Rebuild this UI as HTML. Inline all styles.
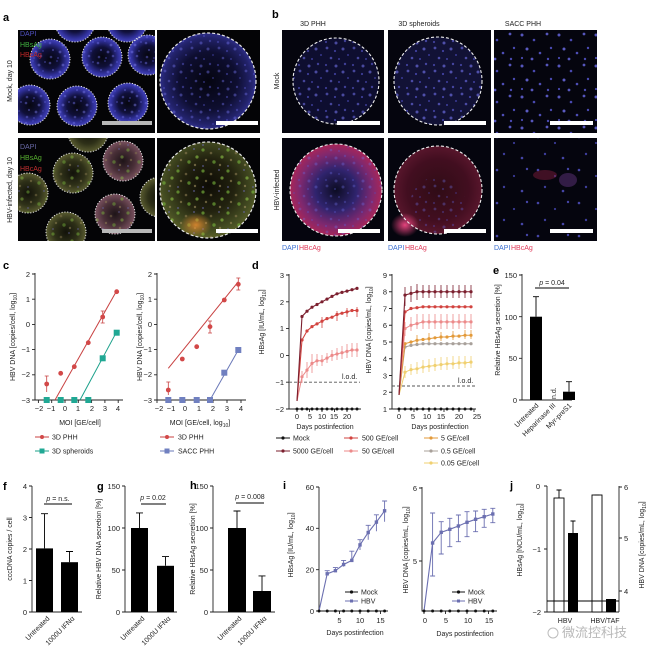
<!DOCTYPE html>
<html><head><meta charset="utf-8"><style>
html,body{margin:0;padding:0;background:#fff;}
svg{display:block;font-family:"Liberation Sans","Noto Sans CJK SC",sans-serif;}
.t{font-size:7px;fill:#222;}
.tk{font-size:7.5px;fill:#222;}
.ax{stroke:#222;stroke-width:0.9;fill:none;}
.L{font-size:11px;font-weight:bold;fill:#000;}
</style></head><body>
<svg width="649" height="651" viewBox="0 0 649 651" xmlns="http://www.w3.org/2000/svg">
<defs>
<radialGradient id="gBlueRing" cx="50%" cy="50%" r="50%">
<stop offset="0" stop-color="#06060f"/><stop offset="0.5" stop-color="#10103a"/><stop offset="0.82" stop-color="#30309a"/><stop offset="1" stop-color="#4545bc"/></radialGradient>
<radialGradient id="gBig" cx="50%" cy="50%" r="50%">
<stop offset="0" stop-color="#050510"/><stop offset="0.6" stop-color="#0e0e30"/><stop offset="0.9" stop-color="#22226a"/><stop offset="1" stop-color="#2e2e88"/></radialGradient>
<radialGradient id="gOlive" cx="50%" cy="50%" r="50%">
<stop offset="0" stop-color="#12120a"/><stop offset="0.6" stop-color="#2e3018"/><stop offset="1" stop-color="#5a5c30"/></radialGradient>
<radialGradient id="gPinkish" cx="50%" cy="50%" r="50%">
<stop offset="0" stop-color="#1e1418"/><stop offset="0.6" stop-color="#4a3038"/><stop offset="1" stop-color="#7a5260"/></radialGradient>
<radialGradient id="gGreenBig" cx="50%" cy="45%" r="55%">
<stop offset="0" stop-color="#0e0c06"/><stop offset="0.5" stop-color="#22220f"/><stop offset="0.85" stop-color="#444c22"/><stop offset="1" stop-color="#5a6028"/></radialGradient>
<radialGradient id="gMag" cx="50%" cy="50%" r="50%">
<stop offset="0" stop-color="#0c0c22"/><stop offset="0.45" stop-color="#30246e"/><stop offset="0.8" stop-color="#80286e"/><stop offset="1" stop-color="#a82658"/></radialGradient>
<radialGradient id="gRed" cx="50%" cy="50%" r="50%">
<stop offset="0" stop-color="#300c16"/><stop offset="0.7" stop-color="#420e20"/><stop offset="1" stop-color="#58162c"/></radialGradient>
<radialGradient id="gOrange" cx="50%" cy="50%" r="50%">
<stop offset="0" stop-color="#e08a30" stop-opacity="0.9"/><stop offset="1" stop-color="#e08a30" stop-opacity="0"/></radialGradient>
<radialGradient id="gPinkSpot" cx="50%" cy="50%" r="50%">
<stop offset="0" stop-color="#ff4a8a" stop-opacity="0.9"/><stop offset="1" stop-color="#ff4a8a" stop-opacity="0"/></radialGradient>
<pattern id="pBlue" width="24" height="20" patternUnits="userSpaceOnUse">
<circle cx="2" cy="3" r="1.3" fill="#7070e8"/><circle cx="9" cy="1" r="1" fill="#5050c8"/><circle cx="15" cy="5" r="1.4" fill="#8080f0"/><circle cx="21" cy="2" r="1" fill="#6060d8"/><circle cx="5" cy="10" r="1.1" fill="#6a6ae0"/><circle cx="12" cy="12" r="1.4" fill="#7a7aec"/><circle cx="19" cy="11" r="1" fill="#5050c8"/><circle cx="3" cy="17" r="1.3" fill="#6a6ae0"/><circle cx="10" cy="18" r="1" fill="#5858d0"/><circle cx="17" cy="16" r="1.3" fill="#7070e8"/></pattern>
<pattern id="pBlue2" width="27" height="23" patternUnits="userSpaceOnUse">
<circle cx="3" cy="2" r="1.4" fill="#6a6ae0"/><circle cx="11" cy="5" r="1.1" fill="#5a5ad8"/><circle cx="19" cy="3" r="1.5" fill="#7070e8"/><circle cx="24" cy="9" r="1" fill="#5050c8"/><circle cx="7" cy="12" r="1.3" fill="#6a6ae0"/><circle cx="15" cy="13" r="1" fill="#5a5ad8"/><circle cx="2" cy="19" r="1.1" fill="#5858d0"/><circle cx="12" cy="20" r="1.5" fill="#7070e8"/><circle cx="21" cy="18" r="1.2" fill="#6060d8"/></pattern>
<pattern id="pGreen" width="25" height="21" patternUnits="userSpaceOnUse">
<circle cx="3" cy="3" r="1.6" fill="#80c040"/><circle cx="11" cy="6" r="1.3" fill="#8a7a50"/><circle cx="19" cy="2" r="1" fill="#6a6ab0"/><circle cx="22" cy="10" r="1.6" fill="#90c848"/><circle cx="6" cy="13" r="1.2" fill="#9a8a58"/><circle cx="14" cy="15" r="1.7" fill="#78b83c"/><circle cx="3" cy="19" r="1" fill="#6a6ab0"/><circle cx="20" cy="18" r="1.2" fill="#a09060"/></pattern>
<pattern id="pSacc" width="37" height="31" patternUnits="userSpaceOnUse">
<circle cx="4" cy="4" r="1.5" fill="#6a6ae8"/><circle cx="16" cy="9" r="1.3" fill="#5a5ad8"/><circle cx="29" cy="3" r="1.4" fill="#6a6ae8"/><circle cx="33" cy="17" r="1.2" fill="#5a5ad8"/><circle cx="9" cy="18" r="1.5" fill="#7070ee"/><circle cx="22" cy="22" r="1.3" fill="#6060e0"/><circle cx="4" cy="27" r="1.1" fill="#5a5ad8"/><circle cx="14" cy="28" r="1.4" fill="#6a6ae8"/><circle cx="30" cy="28" r="1.2" fill="#5a5ad8"/></pattern>
<pattern id="pSacc2" width="41" height="33" patternUnits="userSpaceOnUse">
<circle cx="5" cy="5" r="1.3" fill="#5a5ad8"/><circle cx="22" cy="11" r="1.1" fill="#4a4ac0"/><circle cx="35" cy="4" r="1.2" fill="#5a5ad8"/><circle cx="12" cy="22" r="1.2" fill="#5050c8"/><circle cx="30" cy="26" r="1.3" fill="#5a5ad8"/></pattern>
<marker id="mk" markerWidth="4" markerHeight="4" refX="2" refY="2" markerUnits="userSpaceOnUse"><circle cx="2" cy="2" r="1.5" fill="#111"/></marker>
<marker id="m1" markerWidth="4" markerHeight="4" refX="2" refY="2" markerUnits="userSpaceOnUse"><circle cx="2" cy="2" r="1.6" fill="#7b1f2e"/></marker>
<marker id="m2" markerWidth="4" markerHeight="4" refX="2" refY="2" markerUnits="userSpaceOnUse"><circle cx="2" cy="2" r="1.6" fill="#d2433f"/></marker>
<marker id="m3" markerWidth="4" markerHeight="4" refX="2" refY="2" markerUnits="userSpaceOnUse"><circle cx="2" cy="2" r="1.6" fill="#ec8a8a"/></marker>
<marker id="m4" markerWidth="4" markerHeight="4" refX="2" refY="2" markerUnits="userSpaceOnUse"><circle cx="2" cy="2" r="1.6" fill="#e39a3a"/></marker>
<marker id="m5" markerWidth="4" markerHeight="4" refX="2" refY="2" markerUnits="userSpaceOnUse"><circle cx="2" cy="2" r="1.6" fill="#a8a09a"/></marker>
<marker id="m6" markerWidth="4" markerHeight="4" refX="2" refY="2" markerUnits="userSpaceOnUse"><circle cx="2" cy="2" r="1.6" fill="#f0d070"/></marker>
<marker id="mv" markerWidth="4" markerHeight="4" refX="2" refY="2" markerUnits="userSpaceOnUse"><rect x="0.3" y="0.3" width="3.4" height="3.4" fill="#6b6fb0"/></marker>
<clipPath id="cA1"><rect x="18" y="30" width="137" height="103"/></clipPath>
<clipPath id="cA3"><rect x="18" y="138" width="137" height="103"/></clipPath>
</defs>

<!-- ============ Panel a ============ -->
<text class="L" x="3" y="21">a</text>
<text class="t" transform="translate(12,81) rotate(-90)" text-anchor="middle">Mock, day 10</text>
<text class="t" transform="translate(12,190) rotate(-90)" text-anchor="middle">HBV-infected, day 10</text>
<!-- TL -->
<rect x="18" y="30" width="137" height="103" fill="#040406"/>
<g clip-path="url(#cA1)">
<g fill="url(#gBlueRing)">
<circle cx="50" cy="59" r="20"/><circle cx="102" cy="57" r="20"/><circle cx="148" cy="55" r="20"/>
<circle cx="30" cy="105" r="20"/><circle cx="77" cy="106" r="20"/><circle cx="128" cy="103" r="20"/>
<circle cx="75" cy="22" r="20"/><circle cx="127" cy="22" r="20"/>
</g>
<g fill="url(#pBlue)" opacity="0.45">
<circle cx="50" cy="59" r="20"/><circle cx="102" cy="57" r="20"/><circle cx="148" cy="55" r="20"/>
<circle cx="30" cy="105" r="20"/><circle cx="77" cy="106" r="20"/><circle cx="128" cy="103" r="20"/>
</g>
<g fill="none" stroke="#e8e8e8" stroke-width="1" stroke-dasharray="1.2 1.6">
<circle cx="50" cy="59" r="20"/><circle cx="102" cy="57" r="20"/><circle cx="148" cy="55" r="20"/>
<circle cx="30" cy="105" r="20"/><circle cx="77" cy="106" r="20"/><circle cx="128" cy="103" r="20"/>
<circle cx="75" cy="22" r="20"/><circle cx="127" cy="22" r="20"/>
</g>
</g>
<rect x="102" y="121" width="50" height="4" fill="#b8b8b8"/>
<text x="20" y="36" style="font-size:7px;fill:#5050c0">DAPI</text>
<text x="20" y="47" style="font-size:7px;fill:#40b040">HBsAg</text>
<text x="20" y="57" style="font-size:7px;fill:#c02828">HBcAg</text>
<!-- TR -->
<rect x="157" y="30" width="103" height="103" fill="#040406"/>
<circle cx="208" cy="81" r="48" fill="url(#gBig)"/>
<circle cx="208" cy="81" r="48" fill="url(#pBlue2)" opacity="0.45"/>
<circle cx="208" cy="81" r="48" fill="none" stroke="#e8e8e8" stroke-width="1.2" stroke-dasharray="3 2"/>
<rect x="216" y="121" width="42" height="4" fill="#fff"/>
<!-- BL -->
<rect x="18" y="138" width="137" height="103" fill="#040406"/>
<g clip-path="url(#cA3)">
<circle cx="73" cy="173" r="20" fill="url(#gOlive)"/><circle cx="123" cy="161" r="20" fill="url(#gPinkish)"/>
<circle cx="28" cy="193" r="20" fill="url(#gOlive)"/><circle cx="66" cy="232" r="20" fill="url(#gOlive)"/>
<circle cx="115" cy="214" r="20" fill="url(#gPinkish)"/><circle cx="88" cy="132" r="20" fill="url(#gOlive)"/>
<circle cx="160" cy="197" r="20" fill="url(#gOlive)"/>
<g fill="url(#pGreen)" opacity="0.45">
<circle cx="73" cy="173" r="20"/><circle cx="123" cy="161" r="20"/><circle cx="28" cy="193" r="20"/><circle cx="66" cy="232" r="20"/><circle cx="115" cy="214" r="20"/>
</g>
<g fill="none" stroke="#e8e8e8" stroke-width="1" stroke-dasharray="1.2 1.6">
<circle cx="73" cy="173" r="20"/><circle cx="123" cy="161" r="20"/><circle cx="28" cy="193" r="20"/><circle cx="66" cy="232" r="20"/><circle cx="115" cy="214" r="20"/><circle cx="88" cy="132" r="20"/><circle cx="160" cy="197" r="20"/>
</g>
</g>
<rect x="102" y="229" width="50" height="4" fill="#b8b8b8"/>
<text x="20" y="149" style="font-size:7px;fill:#6a6aa8">DAPI</text>
<text x="20" y="160" style="font-size:7px;fill:#58b030">HBsAg</text>
<text x="20" y="171" style="font-size:7px;fill:#c03030">HBcAg</text>
<!-- BR -->
<rect x="157" y="138" width="103" height="103" fill="#040406"/>
<circle cx="208" cy="190" r="48" fill="url(#gGreenBig)"/>
<circle cx="208" cy="190" r="48" fill="url(#pGreen)" opacity="0.6"/>
<ellipse cx="196" cy="225" rx="16" ry="12" fill="url(#gOrange)"/>
<circle cx="208" cy="190" r="48" fill="none" stroke="#e8e8e8" stroke-width="1.2" stroke-dasharray="3 2"/>
<rect x="216" y="229" width="42" height="4" fill="#fff"/>

<!-- ============ Panel b ============ -->
<text class="L" x="272" y="18">b</text>
<text class="t" x="313" y="26" text-anchor="middle">3D PHH</text>
<text class="t" x="419" y="26" text-anchor="middle">3D spheroids</text>
<text class="t" x="523" y="26" text-anchor="middle">SACC PHH</text>
<text class="t" transform="translate(279,81) rotate(-90)" text-anchor="middle">Mock</text>
<text class="t" transform="translate(279,190) rotate(-90)" text-anchor="middle">HBV-infected</text>
<!-- top row -->
<rect x="282" y="30" width="102" height="103" fill="#05050e"/>
<circle cx="336" cy="81" r="43" fill="#0e0e30"/>
<circle cx="336" cy="81" r="43" fill="url(#pBlue2)" opacity="0.6"/>
<circle cx="336" cy="81" r="43" fill="none" stroke="#eee" stroke-width="1.1" stroke-dasharray="3 2"/>
<rect x="337" y="121" width="43" height="4" fill="#fff"/>
<rect x="388" y="30" width="103" height="103" fill="#05050e"/>
<circle cx="438" cy="81" r="44" fill="#121236"/>
<circle cx="438" cy="81" r="44" fill="url(#pBlue2)" opacity="0.65"/>
<circle cx="438" cy="81" r="44" fill="none" stroke="#eee" stroke-width="1.1" stroke-dasharray="3 2"/>
<rect x="444" y="121" width="42" height="4" fill="#fff"/>
<rect x="494" y="30" width="103" height="103" fill="#05050e"/>
<rect x="494" y="30" width="103" height="103" fill="url(#pSacc)" opacity="0.8"/>
<rect x="550" y="121" width="43" height="4" fill="#fff"/>
<!-- bottom row -->
<rect x="282" y="138" width="102" height="103" fill="#05050e"/>
<circle cx="336" cy="190" r="46" fill="url(#gMag)"/>
<circle cx="336" cy="190" r="46" fill="url(#pBlue2)" opacity="0.35"/>
<circle cx="336" cy="190" r="46" fill="none" stroke="#eee" stroke-width="1.1" stroke-dasharray="3 2"/>
<rect x="338" y="229" width="42" height="4" fill="#fff"/>
<rect x="388" y="138" width="103" height="103" fill="#05050e"/>
<circle cx="438" cy="190" r="44" fill="url(#gRed)"/>
<circle cx="438" cy="205" r="28" fill="url(#pBlue2)" opacity="0.35"/>
<ellipse cx="405" cy="225" rx="14" ry="12" fill="url(#gPinkSpot)"/>
<circle cx="438" cy="190" r="44" fill="none" stroke="#eee" stroke-width="1.1" stroke-dasharray="3 2"/>
<rect x="444" y="229" width="42" height="4" fill="#fff"/>
<rect x="494" y="138" width="103" height="103" fill="#05050e"/>
<rect x="494" y="138" width="103" height="103" fill="url(#pSacc2)" opacity="0.75"/>
<ellipse cx="545" cy="175" rx="12" ry="5" fill="#8a2040" opacity="0.45"/>
<ellipse cx="568" cy="180" rx="9" ry="7" fill="#6a3a8a" opacity="0.45"/>
<rect x="550" y="229" width="43" height="4" fill="#fff"/>
<text x="282" y="250" style="font-size:7px;fill:#3a6ed0">DAPI</text><text x="299" y="250" style="font-size:7px;fill:#e03a5a">HBcAg</text>
<text x="388" y="250" style="font-size:7px;fill:#3a6ed0">DAPI</text><text x="405" y="250" style="font-size:7px;fill:#e03a5a">HBcAg</text>
<text x="494" y="250" style="font-size:7px;fill:#3a6ed0">DAPI</text><text x="511" y="250" style="font-size:7px;fill:#e03a5a">HBcAg</text>

<!-- ============ Panel c ============ -->
<text class="L" x="3" y="269">c</text>
<!-- left -->
<path class="ax" d="M35 273V400H123 M32 274H35 M32 299.2H35 M32 324.4H35 M32 349.6H35 M32 374.8H35 M32 400H35 M38.4 400V403 M51.7 400V403 M65 400V403 M78.3 400V403 M91.6 400V403 M104.9 400V403 M118.2 400V403"/>
<g class="tk" text-anchor="end"><text x="30" y="277">2</text><text x="30" y="302">1</text><text x="30" y="327">0</text><text x="30" y="352">−1</text><text x="30" y="377">−2</text><text x="30" y="403">−3</text></g>
<g class="tk" text-anchor="middle"><text x="39" y="411">−2</text><text x="51" y="411">−1</text><text x="65" y="411">0</text><text x="78" y="411">1</text><text x="92" y="411">2</text><text x="105" y="411">3</text><text x="118" y="411">4</text></g>
<text class="t" x="80" y="425" text-anchor="middle">MOI [GE/cell]</text>
<text class="t" transform="translate(15,337) rotate(-90)" text-anchor="middle">HBV DNA [copies/cell, log<tspan style="font-size:5px" dy="2">10</tspan><tspan dy="-2">]</tspan></text>
<line x1="55" y1="400" x2="116.7" y2="290.7" stroke="#c84040" stroke-width="1"/>
<line x1="80" y1="400" x2="116.7" y2="331.7" stroke="#1aa08a" stroke-width="1"/>
<path d="M46.7 376V392 M44.7 376H48.7 M102.7 311V323 M100.7 311H104.7 M100.7 323H104.7" stroke="#c84040" stroke-width="0.8" fill="none"/>
<g fill="#d24848"><circle cx="46.7" cy="384" r="2.4"/><circle cx="60.7" cy="373.3" r="2.4"/><circle cx="74.3" cy="366.7" r="2.4"/><circle cx="88.3" cy="342.7" r="2.4"/><circle cx="102.7" cy="317" r="2.4"/><circle cx="116.7" cy="291.7" r="2.4"/></g>
<g fill="#20a894"><rect x="43.7" y="397" width="6" height="6"/><rect x="57.7" y="397" width="6" height="6"/><rect x="71.3" y="397" width="6" height="6"/><rect x="85.3" y="397" width="6" height="6"/><rect x="99.7" y="355.3" width="6" height="6"/><rect x="113.7" y="329.7" width="6" height="6"/></g>
<!-- right -->
<path class="ax" d="M157 273V400H246 M154 274H157 M154 299.2H157 M154 324.4H157 M154 349.6H157 M154 374.8H157 M154 400H157 M157 400V403 M171 400V403 M185 400V403 M199 400V403 M213 400V403 M227 400V403 M241 400V403"/>
<g class="tk" text-anchor="end"><text x="152" y="277">2</text><text x="152" y="302">1</text><text x="152" y="327">0</text><text x="152" y="352">−1</text><text x="152" y="377">−2</text><text x="152" y="403">−3</text></g>
<g class="tk" text-anchor="middle"><text x="159" y="411">−2</text><text x="171" y="411">−1</text><text x="185" y="411">0</text><text x="199" y="411">1</text><text x="213" y="411">2</text><text x="227" y="411">3</text><text x="241" y="411">4</text></g>
<text class="t" x="200" y="425" text-anchor="middle">MOI [GE/cell, log<tspan style="font-size:5px" dy="2">10</tspan><tspan dy="-2">]</tspan></text>
<text class="t" transform="translate(142,337) rotate(-90)" text-anchor="middle">HBV DNA [copies/cell, log<tspan style="font-size:5px" dy="2">10</tspan><tspan dy="-2">]</tspan></text>
<line x1="168.3" y1="368.3" x2="238.3" y2="281.7" stroke="#c84040" stroke-width="1"/>
<line x1="210" y1="400" x2="238.3" y2="350" stroke="#6a78b8" stroke-width="1"/>
<path d="M168.3 382V395 M166.3 382H170.3 M210 321V333 M208 321H212 M208 333H212 M238.3 278V290 M236.3 278H240.3 M236.3 290H240.3" stroke="#c84040" stroke-width="0.8" fill="none"/>
<g fill="#d24848"><circle cx="168.3" cy="390" r="2.4"/><circle cx="182.3" cy="359" r="2.4"/><circle cx="196.7" cy="346.7" r="2.4"/><circle cx="210" cy="326.7" r="2.4"/><circle cx="224.3" cy="300" r="2.4"/><circle cx="238.3" cy="284.3" r="2.4"/></g>
<g fill="#7080c0"><rect x="165.3" y="397" width="6" height="6"/><rect x="179.3" y="397" width="6" height="6"/><rect x="193.7" y="397" width="6" height="6"/><rect x="207" y="397" width="6" height="6"/><rect x="221.3" y="369.7" width="6" height="6"/><rect x="235.3" y="347" width="6" height="6"/></g>
<!-- legend c -->
<line x1="35" y1="437" x2="49" y2="437" stroke="#c84040"/><circle cx="42" cy="437" r="2" fill="#d24848"/><text class="t" x="52" y="439.5">3D PHH</text>
<line x1="35" y1="451" x2="49" y2="451" stroke="#1aa08a"/><rect x="39.5" y="448.5" width="5" height="5" fill="#20a894"/><text class="t" x="52" y="453.5">3D spheroids</text>
<line x1="160" y1="437" x2="174" y2="437" stroke="#c84040"/><circle cx="167" cy="437" r="2" fill="#d24848"/><text class="t" x="178" y="439.5">3D PHH</text>
<line x1="160" y1="451" x2="174" y2="451" stroke="#6a78b8"/><rect x="164.5" y="448.5" width="5" height="5" fill="#7080c0"/><text class="t" x="178" y="453.5">SACC PHH</text>

<!-- ============ Panel d ============ -->
<text class="L" x="252" y="269">d</text>
<!-- left -->
<path class="ax" d="M289 274V409H361 M286 275H289 M286 301.8H289 M286 328.6H289 M286 355.4H289 M286 382.2H289 M286 409H289 M297 409V412 M309.5 409V412 M322 409V412 M334.5 409V412 M347 409V412"/>
<g class="tk" text-anchor="end"><text x="284" y="278">3</text><text x="284" y="305">2</text><text x="284" y="331">1</text><text x="284" y="358">0</text><text x="284" y="385">−1</text><text x="284" y="412">−2</text></g>
<g class="tk" text-anchor="middle"><text x="297" y="419">0</text><text x="310" y="419">5</text><text x="322" y="419">10</text><text x="334" y="419">15</text><text x="347" y="419">20</text></g>
<text class="t" x="325" y="429" text-anchor="middle">Days postinfection</text>
<text class="t" transform="translate(264,322) rotate(-90)" text-anchor="middle">HBsAg [IU/mL, log<tspan style="font-size:5px" dy="2">10</tspan><tspan dy="-2">]</tspan></text>
<line x1="289" y1="382.2" x2="360" y2="382.2" stroke="#555" stroke-dasharray="3 2" stroke-width="0.9"/>
<text class="t" x="342" y="379">l.o.d.</text>
<polyline points="297,409 302,409 307,409 312,409 317,409 322,409 327,409 332,409 337,409 342,409 347,409 352,409 357,409" fill="none" stroke="#111" stroke-width="1" marker-start="url(#mk)" marker-mid="url(#mk)" marker-end="url(#mk)"/>
<path d="M302 371V383 M307 362V378 M312 354V373 M317 354V366 M322 355V366 M327 353V363 M332 350V361 M337 348V360 M342 346V359 M347 344V358 M352 343V357 M357 343V357" stroke="#ec8a8a" stroke-width="0.8"/>
<polyline points="297,401 302,376.8 307,370.1 312,363.4 317,360.8 322,360.8 327,358.1 332,355.4 337,354 342,352.7 347,351.4 352,350 357,350" fill="none" stroke="#ec8a8a" stroke-width="1" marker-mid="url(#m3)" marker-end="url(#m3)"/>
<path d="M322 317V328 M337 311V321 M347 308V317 M357 307V317" stroke="#d2433f" stroke-width="0.8"/>
<polyline points="297,401 302,340 307,331 312,326.6 317,323.9 322,321.2 327,318.6 332,317.2 337,314.5 342,313.2 347,311.9 352,310.5 357,310.5" fill="none" stroke="#d2433f" stroke-width="1.1" marker-mid="url(#m2)" marker-end="url(#m2)"/>
<polyline points="297,401 302,316.5 307,311.2 312,307.2 317,304.5 322,301.8 327,299.1 332,296.4 337,293.8 342,292.4 347,291.1 352,289.7 357,288.4" fill="none" stroke="#7b1f2e" stroke-width="1.1" marker-mid="url(#m1)" marker-end="url(#m1)"/>
<!-- right -->
<path class="ax" d="M392 274V409H476 M389 275H392 M389 291.75H392 M389 308.5H392 M389 325.25H392 M389 342H392 M389 358.75H392 M389 375.5H392 M389 392.25H392 M389 409H392 M399 409V412 M414 409V412 M429 409V412 M444 409V412 M459 409V412 M474 409V412"/>
<g class="tk" text-anchor="end"><text x="387" y="278">9</text><text x="387" y="294.5">8</text><text x="387" y="311.5">7</text><text x="387" y="328">6</text><text x="387" y="345">5</text><text x="387" y="361.5">4</text><text x="387" y="378.5">3</text><text x="387" y="395">2</text><text x="387" y="412">1</text></g>
<g class="tk" text-anchor="middle"><text x="399" y="419">0</text><text x="413" y="419">5</text><text x="427" y="419">10</text><text x="441" y="419">15</text><text x="459" y="419">20</text><text x="477" y="419">25</text></g>
<text class="t" x="440" y="429" text-anchor="middle">Days postinfection</text>
<text class="t" transform="translate(371,330) rotate(-90)" text-anchor="middle">HBV DNA [copies/mL, log<tspan style="font-size:5px" dy="2">10</tspan><tspan dy="-2">]</tspan></text>
<line x1="392" y1="386" x2="475" y2="386" stroke="#555" stroke-dasharray="3 2" stroke-width="0.9"/>
<text class="t" x="458" y="383">l.o.d.</text>
<polyline points="399,409 405,409 411,409 417,409 423,409 429,409 435,409 441,409 447,409 453,409 459,409 465,409 471,409" fill="none" stroke="#111" stroke-width="1" marker-start="url(#mk)" marker-mid="url(#mk)" marker-end="url(#mk)"/>
<path d="M405 366V378 M411 364V375 M417 362V374 M423 360V373 M429 359V372 M435 358V371 M441 357V370 M447 357V370 M453 356V369 M459 356V369 M465 356V368 M471 356V368" stroke="#f0d070" stroke-width="0.8"/>
<polyline points="399,395 405,372.2 411,369.6 417,368.8 423,367.1 429,366.3 435,365.5 441,364.6 447,363.8 453,363.8 459,362.9 465,362.9 471,362.1" fill="none" stroke="#f0d070" stroke-width="1" marker-mid="url(#m6)" marker-end="url(#m6)"/>
<polyline points="399,395 405,347 411,345.4 417,344.5 423,343.7 429,343.7 435,343.7 441,343.7 447,343.7 453,343.7 459,343.7 465,343.7 471,343.7" fill="none" stroke="#a8a09a" stroke-width="1" marker-mid="url(#m5)" marker-end="url(#m5)"/>
<path d="M417 335V344 M429 333V342 M441 332V341 M453 331V340 M465 330V339 M471 330V339" stroke="#e39a3a" stroke-width="0.8"/>
<polyline points="399,395 405,343.7 411,342 417,340.3 423,339.5 429,338.7 435,337.8 441,337 447,337 453,336.1 459,336.1 465,335.3 471,335.3" fill="none" stroke="#e39a3a" stroke-width="1" marker-mid="url(#m4)" marker-end="url(#m4)"/>
<path d="M405 322V336 M411 317V331 M417 314V329 M423 314V329 M429 314V329 M435 314V329 M441 314V329 M447 314V329 M453 314V329 M459 314V329 M465 314V329 M471 314V329" stroke="#ec8a8a" stroke-width="0.8"/>
<polyline points="399,395 405,328.6 411,325.25 417,323.6 423,321.9 429,321.9 435,321.9 441,321.9 447,321.9 453,321.9 459,321.9 465,321.9 471,321.9" fill="none" stroke="#ec8a8a" stroke-width="1" marker-mid="url(#m3)" marker-end="url(#m3)"/>
<polyline points="399,395 405,311.9 411,308.5 417,307.7 423,306.8 429,306.8 435,306.8 441,306.8 447,306.8 453,306.8 459,306.8 465,306.8 471,306.8" fill="none" stroke="#d2433f" stroke-width="1.1" marker-mid="url(#m2)" marker-end="url(#m2)"/>
<path d="M405 287V306 M411 286V302 M417 284V300 M423 285V298 M429 285V298 M435 285V298 M441 285V298 M447 285V298 M453 285V298 M459 285V298 M465 285V298 M471 285V298" stroke="#7b1f2e" stroke-width="0.8"/>
<polyline points="399,395 405,295.1 411,293.4 417,291.75 423,291.75 429,291.75 435,291.75 441,291.75 447,291.75 453,291.75 459,291.75 465,291.75 471,291.75" fill="none" stroke="#7b1f2e" stroke-width="1.1" marker-mid="url(#m1)" marker-end="url(#m1)"/>
<!-- legend d -->
<line x1="276" y1="438" x2="290" y2="438" stroke="#111"/><circle cx="283" cy="438" r="1.6" fill="#111"/><text class="t" x="293" y="440.5">Mock</text>
<line x1="276" y1="451" x2="290" y2="451" stroke="#7b1f2e"/><circle cx="283" cy="451" r="1.6" fill="#7b1f2e"/><text class="t" x="293" y="453.5">5000 GE/cell</text>
<line x1="344" y1="438" x2="358" y2="438" stroke="#d2433f"/><circle cx="351" cy="438" r="1.6" fill="#d2433f"/><text class="t" x="362" y="440.5">500 GE/cell</text>
<line x1="344" y1="451" x2="358" y2="451" stroke="#ec8a8a"/><circle cx="351" cy="451" r="1.6" fill="#ec8a8a"/><text class="t" x="362" y="453.5">50 GE/cell</text>
<line x1="424" y1="438" x2="438" y2="438" stroke="#e39a3a"/><circle cx="431" cy="438" r="1.6" fill="#e39a3a"/><text class="t" x="441" y="440.5">5 GE/cell</text>
<line x1="424" y1="451" x2="438" y2="451" stroke="#a8a09a"/><circle cx="431" cy="451" r="1.6" fill="#a8a09a"/><text class="t" x="441" y="453.5">0.5 GE/cell</text>
<line x1="424" y1="463" x2="438" y2="463" stroke="#f0d070"/><circle cx="431" cy="463" r="1.6" fill="#f0d070"/><text class="t" x="441" y="465.5">0.05 GE/cell</text>

<!-- ============ Panel e ============ -->
<text class="L" x="493" y="274">e</text>
<path class="ax" d="M522 274V400H572 M519 275H522 M519 316.7H522 M519 358.3H522 M519 400H522"/>
<g class="tk" text-anchor="end"><text x="517" y="278">150</text><text x="517" y="320">100</text><text x="517" y="361">50</text><text x="517" y="403">0</text></g>
<text class="t" transform="translate(500,330) rotate(-90)" text-anchor="middle">Relative HBsAg secretion [%]</text>
<rect x="530" y="316.7" width="12" height="83.3" fill="#000"/>
<rect x="563" y="391.7" width="12" height="8.3" fill="#000"/>
<path d="M536 316.7V296.7 M533 296.7H539 M569 391.7V381.7 M566 381.7H572" stroke="#000" stroke-width="0.9"/>
<text class="t" transform="translate(556,399) rotate(-90)">n.d.</text>
<line x1="535" y1="288" x2="569" y2="288" stroke="#000" stroke-width="0.9"/>
<text class="t" x="552" y="285" text-anchor="middle"><tspan font-style="italic">p</tspan> = 0.04</text>
<g class="t" text-anchor="end"><text transform="translate(539,406) rotate(-45)">Untreated</text><text transform="translate(556,406) rotate(-45)">Heparinase III</text><text transform="translate(572,406) rotate(-45)">Myr-preS1</text></g>

<!-- ============ Panel f ============ -->
<text class="L" x="3" y="490">f</text>
<path class="ax" d="M32 486V612H82 M29 486H32 M29 517.5H32 M29 549H32 M29 580.5H32 M29 612H32"/>
<g class="tk" text-anchor="end"><text x="27" y="489">4</text><text x="27" y="520.5">3</text><text x="27" y="552">2</text><text x="27" y="583.5">1</text><text x="27" y="615">0</text></g>
<text class="t" transform="translate(12,549) rotate(-90)" text-anchor="middle">cccDNA copies / cell</text>
<rect x="36" y="548.4" width="17" height="63.6" fill="#000"/>
<rect x="61" y="562.2" width="17" height="49.8" fill="#000"/>
<path d="M44.5 548.4V513.7 M41 513.7H48 M69.5 562.2V551.5 M66 551.5H73" stroke="#000" stroke-width="0.9"/>
<line x1="44" y1="504" x2="72" y2="504" stroke="#000" stroke-width="0.9"/>
<text class="t" x="58" y="501" text-anchor="middle"><tspan font-style="italic">p</tspan> = n.s.</text>
<g class="t" text-anchor="end"><text transform="translate(50,619) rotate(-45)">Untreated</text><text transform="translate(75,619) rotate(-45)">1000U IFNα</text></g>

<!-- ============ Panel g ============ -->
<text class="L" x="97" y="490">g</text>
<path class="ax" d="M125 486V612H177 M122 486H125 M122 528H125 M122 570H125 M122 612H125"/>
<g class="tk" text-anchor="end"><text x="120" y="489">150</text><text x="120" y="531">100</text><text x="120" y="573">50</text><text x="120" y="615">0</text></g>
<text class="t" transform="translate(101,549) rotate(-90)" text-anchor="middle">Relative HBV DNA secretion [%]</text>
<rect x="131" y="528" width="17" height="84" fill="#000"/>
<rect x="157" y="565.8" width="17" height="46.2" fill="#000"/>
<path d="M139.5 528V512.9 M136 512.9H143 M165.5 565.8V556.6 M162 556.6H169" stroke="#000" stroke-width="0.9"/>
<line x1="141" y1="504" x2="166" y2="504" stroke="#000" stroke-width="0.9"/>
<text class="t" x="153" y="500" text-anchor="middle"><tspan font-style="italic">p</tspan> = 0.02</text>
<g class="t" text-anchor="end"><text transform="translate(145,619) rotate(-45)">Untreated</text><text transform="translate(171,619) rotate(-45)">1000U IFNα</text></g>

<!-- ============ Panel h ============ -->
<text class="L" x="190" y="489">h</text>
<path class="ax" d="M213 486V612H275 M210 486H213 M210 528H213 M210 570H213 M210 612H213"/>
<g class="tk" text-anchor="end"><text x="208" y="489">150</text><text x="208" y="531">100</text><text x="208" y="573">50</text><text x="208" y="615">0</text></g>
<text class="t" transform="translate(195,549) rotate(-90)" text-anchor="middle">Relative HBsAg secretion [%]</text>
<rect x="228" y="528" width="18" height="84" fill="#000"/>
<rect x="253" y="591" width="18" height="21" fill="#000"/>
<path d="M237 528V511 M233.5 511H240.5 M262 591V575.9 M258.5 575.9H265.5" stroke="#000" stroke-width="0.9"/>
<line x1="236" y1="503" x2="264" y2="503" stroke="#000" stroke-width="0.9"/>
<text class="t" x="250" y="499" text-anchor="middle"><tspan font-style="italic">p</tspan> = 0.008</text>
<g class="t" text-anchor="end"><text transform="translate(242,619) rotate(-45)">Untreated</text><text transform="translate(267,619) rotate(-45)">1000U IFNα</text></g>

<!-- ============ Panel i ============ -->
<text class="L" x="283" y="489">i</text>
<!-- left -->
<path class="ax" d="M319 487V611H388 M316 487H319 M316 528.3H319 M316 569.7H319 M316 611H319 M339.5 611V614 M360 611V614 M380.5 611V614"/>
<g class="tk" text-anchor="end"><text x="314" y="490">60</text><text x="314" y="531">40</text><text x="314" y="572.5">20</text><text x="314" y="614">0</text></g>
<g class="tk" text-anchor="middle"><text x="339.5" y="623">5</text><text x="360" y="623">10</text><text x="380.5" y="623">15</text></g>
<text class="t" x="355" y="635" text-anchor="middle">Days postinfection</text>
<text class="t" transform="translate(293,545) rotate(-90)" text-anchor="middle">HBsAg [IU/mL, log<tspan style="font-size:5px" dy="2">10</tspan><tspan dy="-2">]</tspan></text>
<path d="M327.2 570.7V572.7 M335.4 567.6V571.7 M343.6 560.4V566.6 M351.8 551.2V561.6 M360 539.7V550 M368.2 525.3V539.8 M376.4 514.8V531.3 M384.6 501V521.7" stroke="#6b6fb0" stroke-width="0.9"/>
<path d="M324.7 570.7H329.7 M332.9 567.6H337.9 M341.1 560.4H346.1 M349.3 551.2H354.3 M357.5 539.7H362.5 M365.7 525.3H370.7 M373.9 514.8H378.9 M382.1 501H387.1" stroke="#6b6fb0" stroke-width="0.9"/>
<polyline points="319,611 327.2,573.8 335.4,570.7 343.6,564.5 351.8,560.4 360,544.9 368.2,532.5 376.4,522.1 384.6,510.8" fill="none" stroke="#6b6fb0" stroke-width="1.1" marker-mid="url(#mv)" marker-end="url(#mv)"/>
<polyline points="319,611 327.2,611 335.4,611 343.6,611 351.8,611 360,611 368.2,611 376.4,611 384.6,611" fill="none" stroke="#111" stroke-width="1.1" marker-start="url(#mk)" marker-mid="url(#mk)" marker-end="url(#mk)"/>
<line x1="345" y1="592" x2="358" y2="592" stroke="#111"/><circle cx="351.5" cy="592" r="1.6" fill="#111"/><text class="t" x="361" y="594.5">Mock</text>
<line x1="345" y1="601" x2="358" y2="601" stroke="#6b6fb0"/><rect x="350" y="599.5" width="3" height="3" fill="#6b6fb0"/><text class="t" x="361" y="603.5">HBV</text>
<!-- right -->
<path class="ax" d="M422 487V611H497 M419 488H422 M419 561H422 M424 611V614 M445.5 611V614 M467 611V614 M488.5 611V614"/>
<g class="tk" text-anchor="end"><text x="417" y="491">6</text><text x="417" y="564">5</text></g>
<g class="tk" text-anchor="middle"><text x="425" y="623">0</text><text x="446" y="623">5</text><text x="468" y="623">10</text><text x="489" y="623">15</text></g>
<text class="t" x="465" y="636" text-anchor="middle">Days postinfection</text>
<text class="t" transform="translate(408,550) rotate(-90)" text-anchor="middle">HBV DNA [copies/mL, log<tspan style="font-size:5px" dy="2">10</tspan><tspan dy="-2">]</tspan></text>
<path d="M432.6 513V576 M441.2 521.7V554 M449.8 518.3V546.7 M458.4 515V541.7 M467 511.7V536.7 M475.6 511V531.7 M484.2 509.3V527.3 M492.8 508.3V522.7" stroke="#6b6fb0" stroke-width="0.9"/>
<path d="M430.1 513H435.1 M430.1 576H435.1 M438.7 521.7H443.7 M438.7 554H443.7 M447.3 518.3H452.3 M447.3 546.7H452.3 M455.9 515H460.9 M455.9 541.7H460.9 M464.5 511.7H469.5 M464.5 536.7H469.5 M473.1 511H478.1 M473.1 531.7H478.1 M481.7 509.3H486.7 M481.7 527.3H486.7 M490.3 508.3H495.3 M490.3 522.7H495.3" stroke="#6b6fb0" stroke-width="0.9"/>
<polyline points="424,611 432.6,543 441.2,532.3 449.8,529.3 458.4,526 467,522.3 475.6,519.3 484.2,516.7 492.8,514" fill="none" stroke="#6b6fb0" stroke-width="1.1" marker-mid="url(#mv)" marker-end="url(#mv)"/>
<polyline points="424,611 432.6,611 441.2,611 449.8,611 458.4,611 467,611 475.6,611 484.2,611 492.8,611" fill="none" stroke="#111" stroke-width="1.1" marker-start="url(#mk)" marker-mid="url(#mk)" marker-end="url(#mk)"/>
<line x1="452" y1="592" x2="465" y2="592" stroke="#111"/><circle cx="458.5" cy="592" r="1.6" fill="#111"/><text class="t" x="468" y="594.5">Mock</text>
<line x1="452" y1="601" x2="465" y2="601" stroke="#6b6fb0"/><rect x="457" y="599.5" width="3" height="3" fill="#6b6fb0"/><text class="t" x="468" y="603.5">HBV</text>

<!-- ============ Panel j ============ -->
<text class="L" x="510" y="489">j</text>
<path class="ax" d="M547 486V612H619 M619 486V612 M544 486H547 M544 549H547 M544 612H547 M619 487H622 M619 538H622 M619 591H622"/>
<g class="tk"><text x="540" y="489" text-anchor="end">0</text><text x="541" y="552" text-anchor="end">−1</text><text x="541" y="615" text-anchor="end">−2</text><text x="624" y="490">6</text><text x="624" y="541">5</text><text x="624" y="594">4</text></g>
<text class="t" transform="translate(522,540) rotate(-90)" text-anchor="middle">HBsAg [NCU/mL, log<tspan style="font-size:5px" dy="2">10</tspan><tspan dy="-2">]</tspan></text>
<text class="t" transform="translate(644,545) rotate(-90)" text-anchor="middle">HBV DNA [copies/mL, log<tspan style="font-size:5px" dy="2">10</tspan><tspan dy="-2">]</tspan></text>
<rect x="554" y="498" width="10" height="114" fill="#fff" stroke="#000" stroke-width="0.9"/>
<rect x="568" y="533" width="10" height="79" fill="#000"/>
<rect x="592" y="495" width="10" height="117" fill="#fff" stroke="#000" stroke-width="0.9"/>
<rect x="606" y="599" width="10" height="13" fill="#000"/>
<path d="M559 498V490 M556.5 490H561.5 M573 533V521 M570.5 521H575.5 M594.5 495H599.5" stroke="#000" stroke-width="0.9"/>
<line x1="547" y1="601" x2="619" y2="601" stroke="#000" stroke-width="0.9"/>
<text class="t" x="565" y="623" text-anchor="middle">HBV</text>
<text class="t" x="605" y="623" text-anchor="middle">HBV/TAF</text>
<!-- watermark -->
<circle cx="553" cy="633" r="5" fill="none" stroke="#bbb" stroke-width="1"/>
<text x="562" y="637" style="font-size:13px;fill:#b8b8b8;font-family:'Liberation Sans','Noto Sans CJK SC',sans-serif">微流控科技</text>
</svg>
</body></html>
